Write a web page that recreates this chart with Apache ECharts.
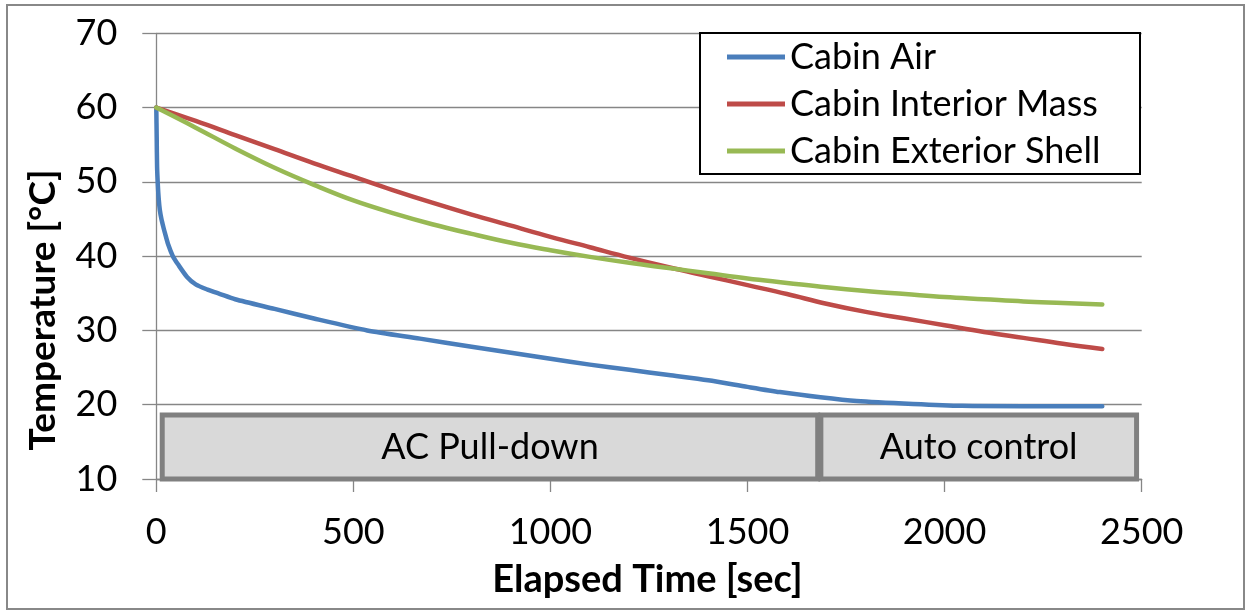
<!DOCTYPE html>
<html>
<head>
<meta charset="utf-8">
<script src="https://cdn.jsdelivr.net/npm/echarts@6/dist/echarts.min.js"></script>
<style>
html,body{margin:0;padding:0;background:#fff;}
#c{width:1250px;height:611px;}
</style>
</head>
<body>
<div id="c"></div>
<script>
// ---- data ----
const seriesNames = ['Cabin Air', 'Cabin Interior Mass', 'Cabin Exterior Shell'];
const airTime = [0,1,2,4,6,9,13,18,22,30,42,55,78,100,130,162,200,300,400,535,669,800,900,1000,1100,1200,1300,1400,1500,1582,1685,1777,1920,2044,2200,2400];
const airTemp = [60,56,52,49.5,47.8,46.2,45,43.9,43.1,41.6,40.0,38.9,37.2,36.2,35.5,34.9,34.2,32.9,31.6,30.0,28.9,27.8,27.0,26.2,25.4,24.7,24.0,23.3,22.4,21.7,21.0,20.5,20.1,19.85,19.8,19.8];
const massTime = [0,100,200,300,400,500,600,700,800,900,1000,1100,1200,1300,1400,1500,1600,1700,1800,1900,2000,2100,2200,2300,2400];
const massTemp = [60,58.2,56.3,54.4,52.5,50.7,48.9,47.2,45.6,44.1,42.6,41.2,39.8,38.5,37.3,36.1,34.9,33.6,32.5,31.6,30.7,29.8,29.0,28.2,27.5];
const shellTime = [0,100,200,300,400,500,600,700,800,900,1000,1100,1200,1300,1400,1500,1600,1700,1800,1900,2000,2100,2200,2300,2400];
const shellTemp = [60,57.3,54.5,51.9,49.6,47.5,45.8,44.3,43.0,41.8,40.8,39.9,39.1,38.4,37.7,37.0,36.4,35.8,35.3,34.9,34.5,34.2,33.9,33.7,33.5];
const phaseNames = ['AC Pull-down', 'Auto control'];
const phaseStart = [15, 1686];
const phaseEnd = [1678, 2487];
const phaseTop = 18.6;
const phaseBottom = 10;
const xTicks = {min: 0, max: 2500, interval: 500};
const yTicks = {min: 10, max: 70, interval: 10};
const colors = ['#4A7EBB', '#BE4B48', '#98B954'];

const FONT = 'Lato';
const FS = 36;
const zip = (a, b) => a.map((v, i) => [v, b[i]]);

const chart = echarts.init(document.getElementById('c'), null, {renderer: 'canvas'});
const lineBase = (name, data, color) => ({
  name, type: 'line', data, showSymbol: false, symbol: 'none',
  smooth: 0.4,
  lineStyle: {color, width: 4.5, cap: 'round', join: 'round'},
  itemStyle: {color}, z: 3
});
const s0 = lineBase(seriesNames[0], zip(airTime, airTemp), colors[0]);
s0.smooth = 0.25;
s0.markArea = {
  silent: true,
  itemStyle: {color: '#D9D9D9', borderColor: '#808080', borderWidth: 5},
  label: {show: true, position: 'inside', color: '#000', fontFamily: FONT, fontSize: FS},
  data: phaseNames.map((n, i) => [
    {name: n, coord: [phaseStart[i], phaseTop]},
    {coord: [phaseEnd[i], phaseBottom]}
  ])
};

chart.setOption({
  animation: false,
  color: colors,
  grid: {left: 156.3, right: 108.3, top: 33.3, bottom: 132, containLabel: false},
  xAxis: {
    type: 'value', min: xTicks.min, max: xTicks.max, interval: xTicks.interval,
    axisLine: {show: true, lineStyle: {color: '#868686', width: 1.3}},
    axisTick: {show: true, length: 13, inside: false, lineStyle: {color: '#868686', width: 1.3}},
    splitLine: {show: false},
    axisLabel: {color: '#000', fontFamily: FONT, fontSize: FS, margin: 35, formatter: v => String(v)}
  },
  yAxis: {
    type: 'value', min: yTicks.min, max: yTicks.max, interval: yTicks.interval,
    axisLine: {show: true, lineStyle: {color: '#868686', width: 1.3}},
    axisTick: {show: true, length: 14, inside: false, lineStyle: {color: '#868686', width: 1.3}},
    splitLine: {show: true, lineStyle: {color: '#868686', width: 1.3}},
    axisLabel: {color: '#000', fontFamily: FONT, fontSize: FS, margin: 39, formatter: v => String(v)}
  },
  legend: {
    orient: 'vertical', left: 700, top: 33, z: 200,
    padding: [4, 10, 0, 27], itemGap: 7, itemWidth: 58, itemHeight: 5,
    icon: 'rect', selectedMode: false,
    textStyle: {color: '#000', fontFamily: FONT, fontSize: FS, lineHeight: 40},
    data: seriesNames
  },
  graphic: [
    {type: 'rect', z: 100, shape: {x: 7, y: 5, width: 1237, height: 604},
      style: {fill: 'none', stroke: '#888', lineWidth: 2}},
    {type: 'rect', z: 100, shape: {x: 700, y: 33, width: 440, height: 141},
      style: {fill: '#fff', stroke: '#000', lineWidth: 2}},
    {type: 'text', z: 100, x: 43.5, y: 310, rotation: Math.PI / 2,
      style: {text: 'Temperature [°C]', font: 'bold 37px ' + FONT, fill: '#000', align: 'center', verticalAlign: 'middle'}},
    {type: 'text', z: 100, x: 647.5, y: 580,
      style: {text: 'Elapsed Time [sec]', font: 'bold 38px ' + FONT, fill: '#000', align: 'center', verticalAlign: 'middle'}}
  ],
  series: [
    s0,
    lineBase(seriesNames[1], zip(massTime, massTemp), colors[1]),
    lineBase(seriesNames[2], zip(shellTime, shellTemp), colors[2])
  ]
});
</script>
</body>
</html>
